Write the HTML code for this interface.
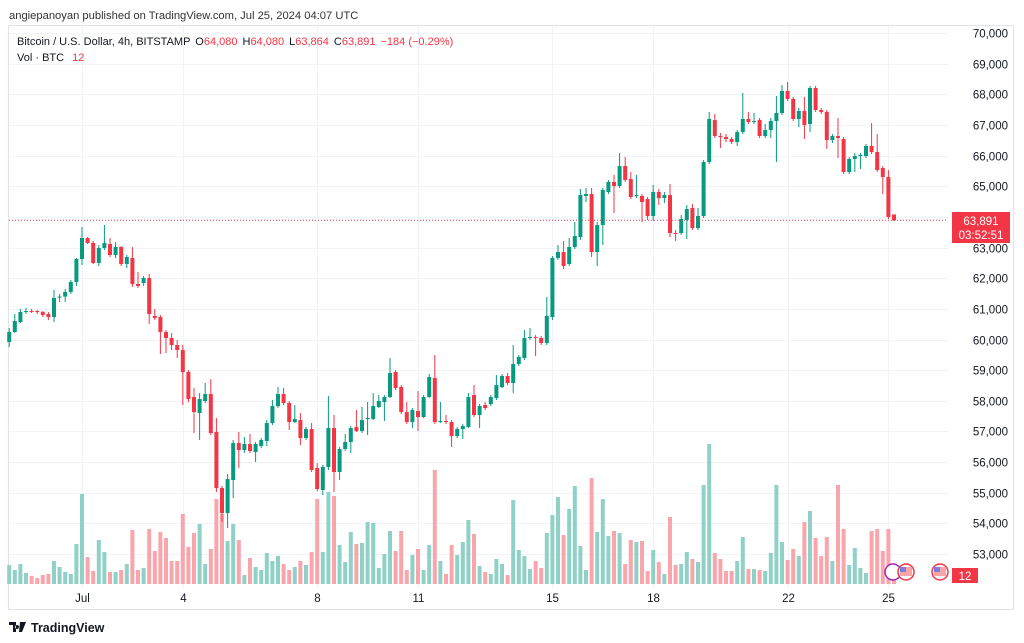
<!DOCTYPE html>
<html><head><meta charset="utf-8">
<style>
body{margin:0;width:1024px;height:643px;background:#fff;overflow:hidden;font-family:"Liberation Sans",sans-serif;}
svg{position:absolute;left:0;top:0}
</style></head>
<body>
<svg id="c" width="1024" height="643" xmlns="http://www.w3.org/2000/svg">
<text x="9" y="19" font-size="11.2" fill="#333">angiepanoyan published on TradingView.com, Jul 25, 2024 04:07 UTC</text>
<rect x="8.5" y="25.5" width="1005" height="584" fill="none" stroke="#e0e3eb"/>
<g id="grid"></g>
<g id="vol"></g>
<g id="candles"></g>
<g id="axis"></g>
<g id="taxis"></g>
<text x="17" y="45" font-size="11" fill="#131722">Bitcoin / U.S. Dollar, 4h, BITSTAMP <tspan dx="2">O</tspan><tspan fill="#f23645">64,080</tspan><tspan dx="5">H</tspan><tspan fill="#f23645">64,080</tspan><tspan dx="5">L</tspan><tspan fill="#f23645">63,864</tspan><tspan dx="5">C</tspan><tspan fill="#f23645">63,891</tspan><tspan dx="5" fill="#f23645">−184 (−0.29%)</tspan></text>
<text x="17" y="61" font-size="11" fill="#131722">Vol · BTC <tspan dx="5" fill="#f23645">12</tspan></text>
<g>
<circle cx="893" cy="572" r="8" fill="#fff" stroke="#9c27b0" stroke-width="1.5"/>
<circle cx="906" cy="572" r="8" fill="#fff" stroke="#f23645" stroke-width="1.5"/>
<rect x="900" y="567" width="12" height="9" fill="#f7a5a9"/><rect x="900" y="567" width="6" height="5" fill="#2962ff" opacity="0.6"/>
<circle cx="940" cy="572" r="8" fill="#fff" stroke="#f23645" stroke-width="1.5"/>
<rect x="934" y="567" width="12" height="9" fill="#f7a5a9"/><rect x="934" y="567" width="6" height="5" fill="#2962ff" opacity="0.6"/>
</g>
<rect x="952" y="568" width="26" height="15" fill="#f23645"/>
<text x="965" y="580" font-size="11.5" fill="#fff" text-anchor="middle">12</text>
<rect x="952" y="212" width="58" height="31" fill="#f23645"/>
<text x="981" y="225" font-size="11.5" fill="#fff" text-anchor="middle">63,891</text>
<text x="981" y="239" font-size="11.5" fill="#fff" text-anchor="middle">03:52:51</text>
<g>
<path d="M9 622h7v10h-3v-7h-4z M17 625a2 2 0 1 0 0.1 0z M20 622h6l-4 10h-3z" fill="#131722"/>
<text x="31" y="632" font-size="12.5" font-weight="bold" fill="#131722">TradingView</text>
</g>
</svg>
<script>
const opens=[59918,60244,60570,60896,60929,60929,60896,60831,60733,61387,61400,61550,61876,62626,63311,63148,62496,62985,63115,62757,63018,62463,62659,61810,61843,62006,60766,60733,60244,60048,59820,59657,58939,58123,57601,57993,58221,56981,55154,54338,55415,56622,56394,56590,56329,56525,56687,57275,57829,58221,57927,57307,57372,56785,57079,55807,55089,55839,57111,55676,56427,56655,57144,57013,57405,57405,57797,57960,58123,58939,58449,57633,57307,57666,57470,58123,58743,57307,57340,57307,56850,57079,57144,58188,57536,57862,57895,58090,58449,58808,58580,59200,59396,60048,60081,60048,59885,60733,62659,62855,62463,63018,63344,64682,64747,62855,63735,64812,65138,65008,65661,65236,64682,64682,64584,64029,64812,64616,64714,63474,63474,63898,64290,63637,64029,65791,67161,66639,66606,66541,66443,66769,67194,67096,67161,66639,66835,67129,67390,68108,67847,67194,67455,67031,68206,67488,67423,66509,66639,66541,65465,65889,65987,65987,66313,66117,65595,65302,64080];
const highs=[60374,60831,60994,61027,60994,60962,60929,60896,61615,61484,61647,61941,62659,63670,63344,63213,63083,63735,63311,63180,63050,62757,63018,62202,62071,62137,60994,60798,60309,60211,59983,59820,59005,58417,58253,58580,58710,57438,55220,55611,56720,56981,56818,56916,56655,56785,57372,58025,58449,58417,57993,57862,57601,57144,57275,55970,55904,58156,57536,56492,56916,57177,57699,57797,57960,58253,58188,58188,59396,59005,58514,57960,57764,58319,58188,58873,59494,57960,57536,57372,57144,57242,58253,58514,57895,57960,58188,58841,58873,58906,59820,59494,60309,60374,60146,60113,61387,62724,63083,63213,63311,63833,64910,64943,64943,63833,64943,65204,65367,66085,65954,65465,65367,64747,64649,65041,64910,64812,65073,63572,64062,64388,64421,64290,65856,67423,67357,66737,66704,66606,66835,68042,67423,67390,67227,67031,67227,67944,68304,68402,67912,67553,67912,68271,68271,67553,67488,66704,67227,66606,65954,66085,66085,66378,67063,66704,65661,65530,64080];
const lows=[59755,60211,60538,60831,60864,60831,60733,60635,60570,61223,61223,61484,61745,62431,63115,62463,62398,62920,62692,62659,62398,62333,61713,61680,61745,60505,60635,59526,59559,59657,59396,57862,57960,56948,56720,57927,56883,55024,54044,53848,54827,55807,56296,56296,56002,56459,56525,57209,57764,57862,57046,57275,56557,56720,55676,55057,54925,55741,55024,55415,56361,56296,56981,56948,56883,57372,57764,57340,58090,58351,57568,57242,57111,57013,57438,58090,57242,57275,57242,56492,56785,56753,57111,57470,57111,57699,57829,58025,58417,58514,58253,59135,59331,59983,59461,59820,59820,60635,62594,62300,62398,62952,63246,64486,62692,62398,63083,64747,64127,64943,65138,64584,64616,63833,63898,63866,64388,64453,63344,63213,63409,63278,63572,63572,63964,65726,66574,66248,66443,66378,66313,66704,67031,67031,66574,66574,66574,65791,67325,67782,67129,66933,66541,66769,67423,67357,66215,66411,65922,65400,65400,65465,65563,65922,66052,65465,64747,63931,63864];
const closes=[60244,60603,60896,60929,60912,60896,60798,60733,61354,61400,61550,61876,62626,63311,63148,62496,62985,63148,62757,63018,62463,62692,61810,61745,62006,60831,60700,60244,60048,59820,59657,58939,58058,57633,58058,58221,56948,55154,54338,55448,56622,56394,56590,56361,56590,56720,57275,57829,58221,57927,57307,57405,56785,57079,55741,55122,55839,57111,55676,56427,56655,57111,57013,57372,57438,57829,57993,58123,58906,58417,57633,57307,57699,57470,58123,58776,57307,57340,57307,56850,57079,57177,58123,57536,57829,57764,58123,58514,58808,58580,59200,59428,60048,60081,60048,59885,60766,62659,62855,62398,63018,63376,64714,64747,62855,63735,64877,65138,65008,65661,65204,64649,64714,64486,64029,64812,64616,64714,63474,63441,63931,64258,63637,64029,65791,67194,66639,66606,66541,66443,66769,67194,67096,67129,66639,66835,67129,67390,68108,67847,67194,67455,66998,68206,67488,67423,66509,66639,66574,65465,65889,65987,66020,66313,66117,65530,65302,63996,63891];
const volumes=[190,140,200,110,80,60,90,100,230,170,120,100,400,900,270,130,440,320,120,120,140,200,540,140,160,550,330,520,460,230,230,700,370,510,600,200,350,850,700,430,600,440,90,260,170,140,310,230,280,200,140,170,230,190,320,850,320,920,880,390,220,520,400,410,620,610,160,300,530,330,530,140,290,350,140,390,1140,230,100,390,290,420,640,500,180,120,100,250,200,90,840,340,280,150,230,160,510,690,870,490,750,980,380,140,1060,520,850,480,530,510,200,440,420,430,130,340,220,100,670,190,200,320,250,220,990,1400,310,250,130,130,230,470,150,150,140,130,310,990,420,240,350,280,620,730,460,280,470,230,990,550,190,360,160,110,530,550,330,550,40];
const priceTicks=[70000,69000,68000,67000,66000,65000,64000,63000,62000,61000,60000,59000,58000,57000,56000,55000,54000,53000];
const timeLabels=["Jul","4","8","11","15","18","22","25"];
const timeLabelIdx=[13,31,55,73,97,115,139,157];

const NS="http://www.w3.org/2000/svg";
const X0=9.2, STEP=5.6;
const xOf=i=>X0+i*STEP;
const yOf=p=>33+(70000-p)/1000*30.65;
const volBase=584;
const vOf=v=>v/10;
const fmt=n=>n.toLocaleString('en-US');
function mk(tag,attrs,parent){const e=document.createElementNS(NS,tag);for(const k in attrs)e.setAttribute(k,attrs[k]);parent.appendChild(e);return e;}
const grid=document.getElementById('grid'),axis=document.getElementById('axis'),taxis=document.getElementById('taxis');
priceTicks.forEach(p=>{
  const y=Math.round(yOf(p))+0.5;
  const l=mk('line',{x1:9,x2:948,y1:y,y2:y,stroke:'#f0f3fa'},grid);
  
  
  const t=mk('text',{x:1008,y:y+4,'font-size':11.5,fill:'#131722','text-anchor':'end'},axis);
  
  
  t.textContent=fmt(p);
});
timeLabels.forEach((s,k)=>{
  const x=Math.round(xOf(timeLabelIdx[k]))+0.5;
  const l=mk('line',{x1:x,x2:x,y1:26,y2:588,stroke:'#f0f3fa'},grid);
  
  
  const t=mk('text',{x:x,y:602,'font-size':11.5,fill:'#131722','text-anchor':'middle'},taxis);
  
  
  t.textContent=s;
});
const vol=document.getElementById('vol'),cg=document.getElementById('candles');
volumes.forEach((v,i)=>{
  const up=closes[i]>=opens[i];
  const h=vOf(v);
  const r=mk('rect',{x:xOf(i)-2,y:volBase-h,width:4,height:h,fill:up?'#8fd1c6':'#f8a5ab'},vol);
  
  
});
const lastY=yOf(closes[closes.length-1]);
const dl=mk('line',{x1:9,x2:948,y1:lastY,y2:lastY,stroke:'#f23645','stroke-dasharray':'1 2','stroke-width':1},grid);


closes.forEach((c,i)=>{
  const o=opens[i],up=c>=o,col=up?'#089981':'#f23645',x=xOf(i);
  const g=mk('g',{},cg);
  
  
  mk('line',{x1:x,x2:x,y1:yOf(highs[i]),y2:yOf(lows[i]),stroke:col,'stroke-width':1},g);
  const top=yOf(Math.max(o,c)),bot=yOf(Math.min(o,c));
  mk('rect',{x:x-2,y:top,width:4,height:Math.max(1,bot-top),fill:col},g);
});
</script>
</body></html>
